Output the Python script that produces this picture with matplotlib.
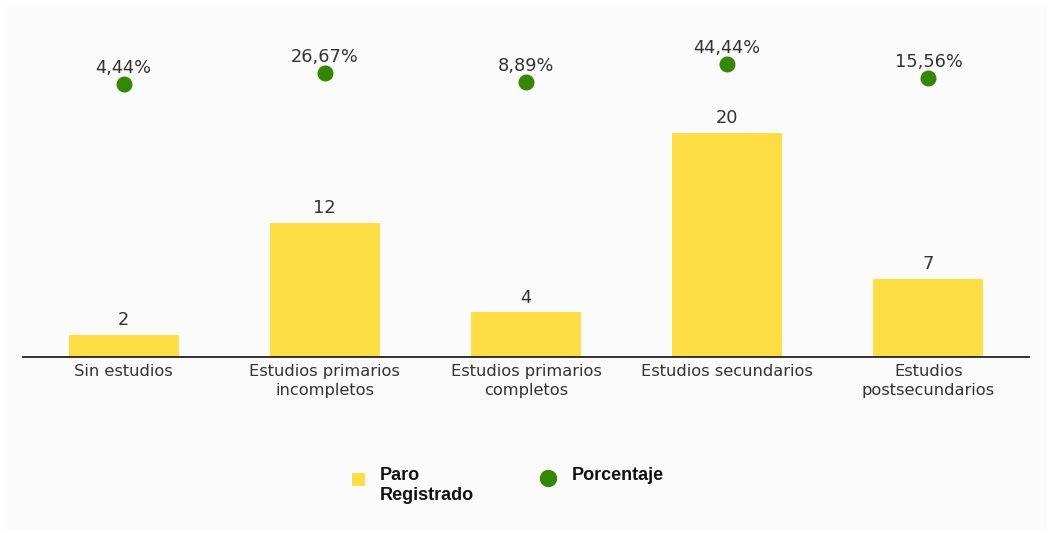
import matplotlib
matplotlib.use('Agg')
import matplotlib.pyplot as plt
from matplotlib.patches import Rectangle
from matplotlib.lines import Line2D

categories = ['Sin estudios', 'Estudios primarios\nincompletos', 'Estudios primarios\ncompletos',
              'Estudios secundarios', 'Estudios\npostsecundarios']
paro = [2, 12, 4, 20, 7]
porcentaje = [4.44, 26.67, 8.89, 44.44, 15.56]
pct_labels = ['4,44%', '26,67%', '8,89%', '44,44%', '15,56%']
legend_labels = ['Paro\nRegistrado', 'Porcentaje']

bar_color = '#ffdd44'
dot_color = '#338800'

W, H = 1051, 533
fig = plt.figure(figsize=(W / 100, H / 100), dpi=100)
fig.patch.set_facecolor('white')
fig.add_artist(Rectangle((4 / W, 1 - 530 / H), 1043 / W, 523 / H, transform=fig.transFigure,
                         facecolor='#fbfbfb', edgecolor='none', zorder=-10))

ax = fig.add_axes([23 / W, 1 - 357 / H, 1006 / W, 317 / H])
ax.set_facecolor('none')
x = list(range(len(categories)))
ax.bar(x, paro, width=0.547, color=bar_color, zorder=2)
for xi, v in zip(x, paro):
    ax.annotate(str(v), (xi, v), xytext=(0, 4), textcoords='offset points',
                ha='center', va='bottom', fontsize=12.8, color='#333333')
ax.set_xlim(-0.5, len(categories) - 0.5)
ax.set_ylim(0, 28.3)
ax.set_xticks(x)
ax.set_xticklabels(categories, fontsize=11.7, color='#333333', linespacing=1.3)
ax.tick_params(axis='x', length=0, pad=5)
ax.set_yticks([])
for s in ['top', 'left', 'right']:
    ax.spines[s].set_visible(False)
ax.spines['bottom'].set_color('#222222')
ax.spines['bottom'].set_linewidth(1.3)

ax2 = ax.twinx()
ax2.plot(x, porcentaje, 'o', color=dot_color, markersize=10.5, linestyle='none', zorder=3)
for xi, v, lab in zip(x, porcentaje, pct_labels):
    ax2.annotate(lab, (xi, v), xytext=(0, 5), textcoords='offset points',
                 ha='center', va='bottom', fontsize=12.8, color='#333333')
ax2.set_ylim(-542, 92)
ax2.set_yticks([])
for s in ['top', 'left', 'right', 'bottom']:
    ax2.spines[s].set_visible(False)

# legend drawn by hand so the markers sit on the first text line
fig.add_artist(Rectangle((352 / W, 1 - 486 / H), 13 / W, 13 / H, transform=fig.transFigure,
                         facecolor=bar_color, edgecolor='none'))
fig.add_artist(Line2D([548 / W], [1 - 478 / H], transform=fig.transFigure, marker='o',
                      color=dot_color, markersize=11.5, linestyle='none'))
fig.text(380 / W, 1 - 467 / H, legend_labels[0], ha='left', va='top', family='Liberation Sans',
         weight='bold', size=13, color='#111111', linespacing=1.25)
fig.text(572 / W, 1 - 467 / H, legend_labels[1], ha='left', va='top', family='Liberation Sans',
         weight='bold', size=13, color='#111111')

fig.savefig('out.png', dpi=100)
